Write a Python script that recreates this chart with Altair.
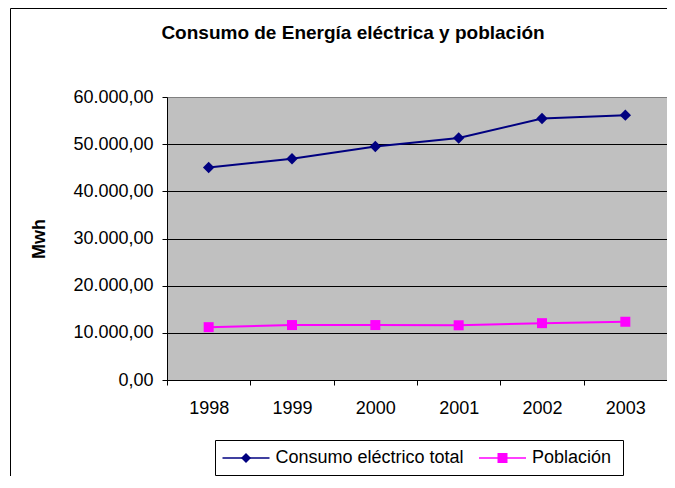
import altair as alt
import pandas as pd

# ---- data ----
years = ["1998", "1999", "2000", "2001", "2002", "2003"]
consumo = [45050, 46900, 49500, 51300, 55450, 56150]
poblacion = [11200, 11650, 11650, 11600, 12050, 12350]
series_names = ["Consumo eléctrico total", "Población"]
series_colors = ["#000080", "#FF00FF"]
series_shapes = ["diamond", "square"]
series_sizes = [130, 100]
y_ticks = [0, 10000, 20000, 30000, 40000, 50000, 60000]
chart_title = "Consumo de Energía eléctrica y población"
y_title = "Mwh"

df = pd.DataFrame({
    "year": years * 2,
    "value": consumo + poblacion,
    "serie": [series_names[0]] * len(years) + [series_names[1]] * len(years),
})

FONT = "Liberation Sans"
W, H = 500, 283
PAD_L, PAD_T, PAD_B = 159, 89, 96

x_enc = alt.X(
    "year:O",
    scale=alt.Scale(type="band", paddingInner=0, paddingOuter=0),
    axis=alt.Axis(
        title=None, labelAngle=0, tickBand="extent", labelFontSize=18,
        labelColor="black", labelFont=FONT, labelPadding=14, tickSize=5,
        tickColor="black", domainColor="black", grid=False,
    ),
)
y_enc = alt.Y(
    "value:Q",
    scale=alt.Scale(domain=[0, 60000], nice=False),
    axis=alt.Axis(
        values=y_ticks,
        labelExpr="replace(format(datum.value, ',.0f'), ',', '.') + ',00'",
        title=y_title, titleFontSize=18, titleFontWeight="bold", titleFont=FONT,
        titleColor="black", titleAngle=270, titleX=-127.5, titleY=H / 2,
        titleAlign="center", titleBaseline="middle",
        labelFontSize=18, labelColor="black", labelFont=FONT, labelPadding=9,
        tickSize=5, tickColor="black", domainColor="black",
        grid=True,
        gridColor={"condition": {"test": "datum.value == 60000", "value": "#808080"}, "value": "#000000"},
        gridOpacity=1, gridWidth=1,
    ),
)

color_scale = alt.Scale(domain=series_names, range=series_colors)

one = pd.DataFrame({"k": [0]})
border_left = alt.Chart(one).mark_rule(stroke="black", strokeWidth=1).encode(
    x=alt.value(-PAD_L + 2.5), y=alt.value(-PAD_T + 0.5), y2=alt.value(H + PAD_B),
)
border_top = alt.Chart(one).mark_rule(stroke="black", strokeWidth=1).encode(
    x=alt.value(-PAD_L + 2.5), x2=alt.value(W), y=alt.value(-PAD_T + 0.5),
)

title_mark = alt.Chart(pd.DataFrame({"t": [chart_title]})).mark_text(
    align="center", baseline="alphabetic", fontSize=19, fontWeight="bold",
    font=FONT, color="black",
).encode(text="t:N", x=alt.value(186), y=alt.value(-58))

lines = alt.Chart(df).mark_line(strokeWidth=2).encode(
    x=x_enc, y=y_enc,
    color=alt.Color("serie:N", scale=color_scale, legend=None),
)
pts_a = alt.Chart(df).transform_filter(
    alt.datum.serie == series_names[0]
).mark_point(filled=True, opacity=1, shape=series_shapes[0], size=series_sizes[0],
             color=series_colors[0]).encode(x=x_enc, y=y_enc)
pts_b = alt.Chart(df).transform_filter(
    alt.datum.serie == series_names[1]
).mark_point(filled=True, opacity=1, shape=series_shapes[1], size=series_sizes[1],
             color=series_colors[1]).encode(x=x_enc, y=y_enc)

# ---- legend (box + line/marker glyph + label for each series) ----
LEG_X0, LEG_X1, LEG_Y0, LEG_Y1 = 48.5, 456.5, 343.5, 378.5
leg_cy = (LEG_Y0 + LEG_Y1) / 2
entry_x = [55.5, 312.0]   # left end of each glyph line
GLYPH_W, LABEL_GAP = 47, 6

legend_box = alt.Chart(one).mark_rect(
    fill="white", stroke="black", strokeWidth=1
).encode(
    x=alt.value(LEG_X0), x2=alt.value(LEG_X1),
    y=alt.value(LEG_Y0), y2=alt.value(LEG_Y1),
)
legend_layers = [legend_box]
for i, name in enumerate(series_names):
    sub = pd.DataFrame({"serie": [name]})
    x0 = entry_x[i]
    legend_layers.append(
        alt.Chart(sub).mark_rule(color=series_colors[i], strokeWidth=1.5).encode(
            x=alt.value(x0), x2=alt.value(x0 + GLYPH_W), y=alt.value(leg_cy),
        )
    )
    legend_layers.append(
        alt.Chart(sub).mark_point(filled=True, opacity=1, shape=series_shapes[i],
                                  size=100, color=series_colors[i]).encode(
            x=alt.value(x0 + GLYPH_W / 2), y=alt.value(leg_cy),
        )
    )
    legend_layers.append(
        alt.Chart(sub).mark_text(align="left", baseline="middle", fontSize=18,
                                 font=FONT, color="black").encode(
            text="serie:N", x=alt.value(x0 + GLYPH_W + LABEL_GAP), y=alt.value(leg_cy),
        )
    )

chart = alt.layer(
    border_left, border_top, title_mark, lines, pts_a, pts_b, *legend_layers
).properties(
    width=W, height=H,
    padding={"left": PAD_L, "top": PAD_T, "right": 0, "bottom": PAD_B},
    autosize=alt.AutoSizeParams(type="none"),
    background="white",
).configure(font=FONT).configure_view(
    fill="#C0C0C0", stroke="#808080", strokeWidth=1,
)

chart.save("out.html", embed_options={"renderer": "svg", "actions": False})
